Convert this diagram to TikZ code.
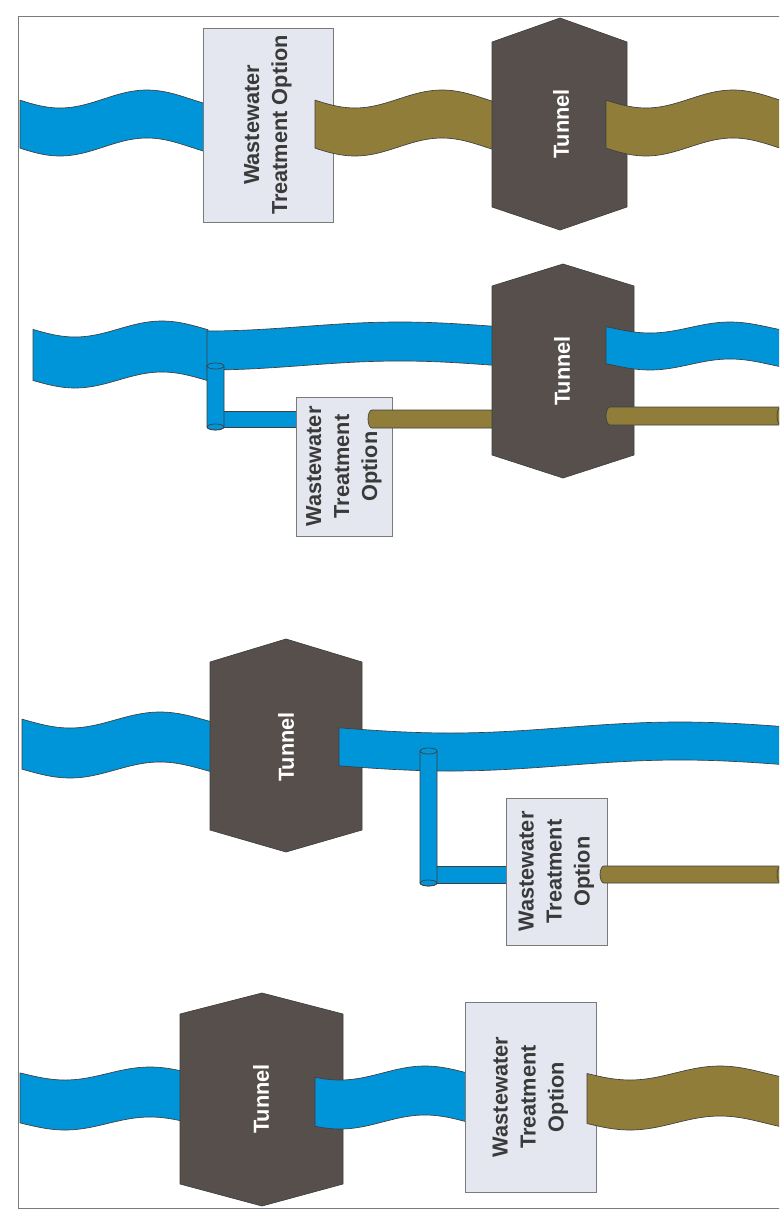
\documentclass[tikz,border=0pt]{standalone}
\usepackage{fontspec}
\setmainfont{Liberation Sans}
\usepackage{tikz}
\usetikzlibrary{calc}
\definecolor{water}{HTML}{0094D8}
\definecolor{waste}{HTML}{917D3A}
\definecolor{tunnelgray}{HTML}{574F4C}
\definecolor{boxfill}{HTML}{E4E7EF}
\definecolor{edge}{HTML}{3F3F3F}
\definecolor{boxedge}{HTML}{7A7A7A}
\definecolor{boxtext}{HTML}{3A3A3A}
\tikzset{
  outline/.style={draw=edge, line width=0.5pt, line join=round},
  flow/.style={outline, fill=water},
  sludge/.style={outline, fill=waste},
  tun/.style={outline, fill=tunnelgray},
  tunlab/.style={text=white, font=\bfseries\fontsize{16.3}{21}\selectfont, rotate=90, inner sep=0pt},
  wto/.style={draw=boxedge, line width=0.6pt, fill=boxfill, rotate=90, align=center,
    text=boxtext, font=\bfseries\fontsize{16.3}{21}\selectfont, inner sep=0pt},
  frame/.style={draw=boxedge, line width=0.6pt},
}
% wavy band: style, x from, x to, mid y, amplitude, period, x of dip, width
\newcommand{\band}[8]{%
  \path[#1] plot[domain=#2:#3, samples=60, smooth] (\x,{#4+#5*cos(360/#6*(\x-#7))})
    -- plot[domain=#3:#2, samples=60, smooth] (\x,{#4+#8+#5*cos(360/#6*(\x-#7))}) -- cycle;}

\begin{document}
\begin{tikzpicture}[x=0.75pt, y=-0.75pt]
  \useasboundingbox (0,0) rectangle (779,1231);
  \clip (0,0) rectangle (779,1231);
  \draw[frame] (18,16) rectangle (800,1208);

  % row 1
  \band{flow}{20}{206}{99}{9}{174}{60}{48}
  \node[wto, minimum width=145.5pt, minimum height=97.5pt] (wto1) at (268,125) {Wastewater\\Treatment Option};
  \band{sludge}{315}{495}{99}{9}{174}{355}{48}
  \path[tun] (492,42) -- (560,18) -- (627,42) -- (627,207) -- (560,230) -- (492,207) -- cycle;
  \node[tunlab] (tun1) at (561,124) {Tunnel};
  \band{sludge}{606}{790}{99}{9}{174}{646}{48}

  % row 2
  \band{flow}{33}{208}{329}{8}{174}{75}{51}
  \band{flow}{207}{495}{326.5}{4.5}{386}{207}{39}
  \path[flow] (215,411) rectangle (298,427);
  \path[flow] (207,366) -- (207,427) arc[start angle=180, end angle=0, x radius=8.5, y radius=3] -- (224,366) -- cycle;
  \path[flow] (215.5,366) ellipse [x radius=8.5, y radius=3];
  \draw[outline] (215.5,427) ellipse [x radius=8.5, y radius=3];
  \node[wto, minimum width=104.25pt, minimum height=72pt] (wto2) at (344,466.5) {Wastewater\\Treatment\\Option};
  \path[sludge] (495,410) -- (372,410) arc[start angle=270, end angle=90, x radius=4, y radius=9] -- (495,428) -- cycle;
  \path[tun] (492,286) -- (563,264) -- (634,286) -- (634,455) -- (563,478) -- (492,455) -- cycle;
  \node[tunlab] (tun2) at (562,371) {Tunnel};
  \band{flow}{606}{790}{327.5}{5.5}{160}{650}{37}
  \path[sludge] (781,407) -- (610,407) arc[start angle=270, end angle=90, x radius=4, y radius=9] -- (781,425) -- cycle;
  \path[sludge] (781,416) ellipse [x radius=4, y radius=9];

  % row 3
  \band{flow}{22}{212}{720}{8}{180}{70}{50}
  \path[tun] (210,662) -- (286,639) -- (362,662) -- (362,830) -- (286,852) -- (210,830) -- cycle;
  \node[tunlab] (tun3) at (286,747) {Tunnel};
  \band{flow}{339}{790}{727.5}{5.5}{460}{450}{38}
  \path[flow] (428,866) rectangle (508,883);
  \path[flow] (420,751) -- (420,883) arc[start angle=180, end angle=0, x radius=8.5, y radius=3] -- (437,751) -- cycle;
  \path[flow] (428.5,751) ellipse [x radius=8.5, y radius=3];
  \draw[outline] (428.5,883) ellipse [x radius=8.5, y radius=3];
  \node[wto, minimum width=110.25pt, minimum height=75.75pt] (wto3) at (556.5,871.5) {Wastewater\\Treatment\\Option};
  \path[sludge] (781,866) -- (604,866) arc[start angle=270, end angle=90, x radius=4, y radius=8.5] -- (781,883) -- cycle;
  \path[sludge] (781,874.5) ellipse [x radius=4, y radius=8.5];

  % row 4
  \band{flow}{20}{182}{1073.5}{6.5}{170}{65}{50}
  \path[tun] (180,1014) -- (262,993) -- (343,1014) -- (343,1184) -- (262,1206) -- (180,1184) -- cycle;
  \node[tunlab] (tun4) at (261,1099) {Tunnel};
  \band{flow}{315}{467}{1073}{7}{170}{340}{49}
  \node[wto, minimum width=142.5pt, minimum height=98.25pt] (wto4) at (530.5,1097) {Wastewater\\Treatment\\Option};
  \band{sludge}{587}{790}{1073}{7}{180}{630}{50}
\end{tikzpicture}
\end{document}
